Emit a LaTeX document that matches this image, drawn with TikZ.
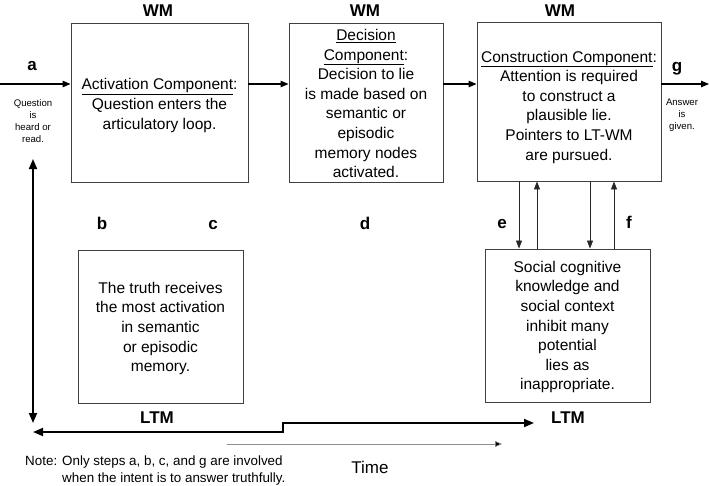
\documentclass[tikz,border=0pt]{standalone}
\usepackage{fontspec}
\setmainfont{Liberation Sans}
\usetikzlibrary{arrows.meta}
\begin{document}
\begin{tikzpicture}[x=1pt,y=-1pt,
  box/.style={draw=black!75, line width=0.9pt, inner sep=0pt},
  boxtext/.style={inner sep=0pt, align=center, font=\fontsize{15.5}{19.6}\selectfont},
  lab/.style={font=\bfseries\fontsize{17}{20}\selectfont, inner sep=0pt, anchor=base},
  small/.style={font=\fontsize{9.6}{12}\selectfont, align=center, inner sep=0pt},
  flow/.style={-{Triangle[length=8pt,width=6.5pt]}, line width=1.1pt},
  vflow/.style={-{Triangle[length=8pt,width=6pt]}, line width=0.8pt, draw=black!85},
  ltmline/.style={{Triangle[length=10pt,width=8pt]}-{Triangle[length=10pt,width=8pt]}, line width=1.8pt},
  timeline/.style={draw=black!45, line width=0.7pt, -{Triangle[length=7pt,width=6pt,fill=black]}},
  notetext/.style={font=\fontsize{13.4}{16}\selectfont, inner sep=0pt, anchor=base west}
]
\useasboundingbox (0,0) rectangle (709,485);

% boxes
\node[box, minimum width=177pt, minimum height=159pt] (act) at (159.5,102.5) {};
\node[box, minimum width=154pt, minimum height=159pt] (dec) at (366,102.5) {};
\node[box, minimum width=184pt, minimum height=159pt] (con) at (569,101.5) {};
\node[box, minimum width=165pt, minimum height=153pt] (truth) at (160.5,326.5) {};
\node[box, minimum width=165pt, minimum height=153pt] (soc) at (567.5,325.5) {};

% box texts
\node[boxtext] (act-t) at ([yshift=-3pt]act.center)
  {\underline{Activation Component}:\\Question enters the\\articulatory loop.};
\node[boxtext] (dec-t) at ([yshift=-1pt]dec.center)
  {\underline{Decision}\\\underline{Component}:\\Decision to lie\\is made based on\\semantic or\\episodic\\memory nodes\\activated.};
\node[boxtext] (con-t) at ([yshift=-5.5pt]con.center)
  {\underline{Construction Component}:\\Attention is required\\to construct a\\plausible lie.\\Pointers to LT-WM\\are pursued.};
\node[boxtext] (truth-t) at ([yshift=-2pt]truth.center)
  {The truth receives\\the most activation\\in semantic\\or episodic\\memory.};
\node[boxtext] (soc-t) at ([yshift=-1.5pt]soc.center)
  {Social cognitive\\knowledge and\\social context\\inhibit many\\potential\\lies as\\inappropriate.};

% labels
\node[lab] (wm1) at (158,16) {WM};
\node[lab] (wm2) at (365,16) {WM};
\node[lab] (wm3) at (560,16) {WM};
\node[lab] (la) at (32,70) {a};
\node[lab] (lg) at (677,71) {g};
\node[lab] (lb) at (102,229) {b};
\node[lab] (lc) at (213,229) {c};
\node[lab] (ld) at (365,229) {d};
\node[lab] (le) at (502,228) {e};
\node[lab] (lf) at (629,228) {f};
\node[lab] (ltm1) at (157,423) {LTM};
\node[lab] (ltm2) at (568,423) {LTM};
\node[font=\fontsize{17}{20}\selectfont, inner sep=0pt, anchor=base] (time) at (370,473) {Time};

\node[small] (qtext) at (33,121) {Question\\is\\heard or\\read.};
\node[small] (atext) at (682,115) {Answer\\is\\given.};

\node[notetext] (note1) at (25,465) {Note: Only steps a, b, c, and g are involved};
\node[notetext] (note2) at (62,482) {when the intent is to answer truthfully.};

% horizontal flow
\coordinate (ain) at (0,84);
\coordinate (gout) at (709,84);
\draw[flow] (ain) -- (ain -| act.west);
\draw[flow] (act.east |- ain) -- (dec.west |- ain);
\draw[flow] (dec.east |- ain) -- (con.west |- ain);
\draw[flow] (con.east |- gout) -- (gout);

% vertical arrows between construction and social
\coordinate (v1) at (519,0);
\coordinate (v2) at (537,0);
\coordinate (v3) at (590,0);
\coordinate (v4) at (614,0);
\draw[vflow] (con.south -| v1) -- (soc.north -| v1);
\draw[vflow] (soc.north -| v2) -- (con.south -| v2);
\draw[vflow] (con.south -| v3) -- (soc.north -| v3);
\draw[vflow] (soc.north -| v4) -- (con.south -| v4);

% left vertical double arrow
\coordinate (lt) at (33,159);
\coordinate (lbot) at (33,423);
\draw[ltmline] (lt) -- (lbot);

% LTM line
\coordinate (l1) at (33,432);
\coordinate (l2) at (283,432);
\coordinate (l3) at (283,423);
\coordinate (l4) at (534,423);
\draw[ltmline] (l1) -- (l2) -- (l3) -- (l4);

% time arrow
\coordinate (t1) at (227,444);
\coordinate (t2) at (502,444);
\draw[timeline] (t1) -- (t2);
\end{tikzpicture}
\end{document}
